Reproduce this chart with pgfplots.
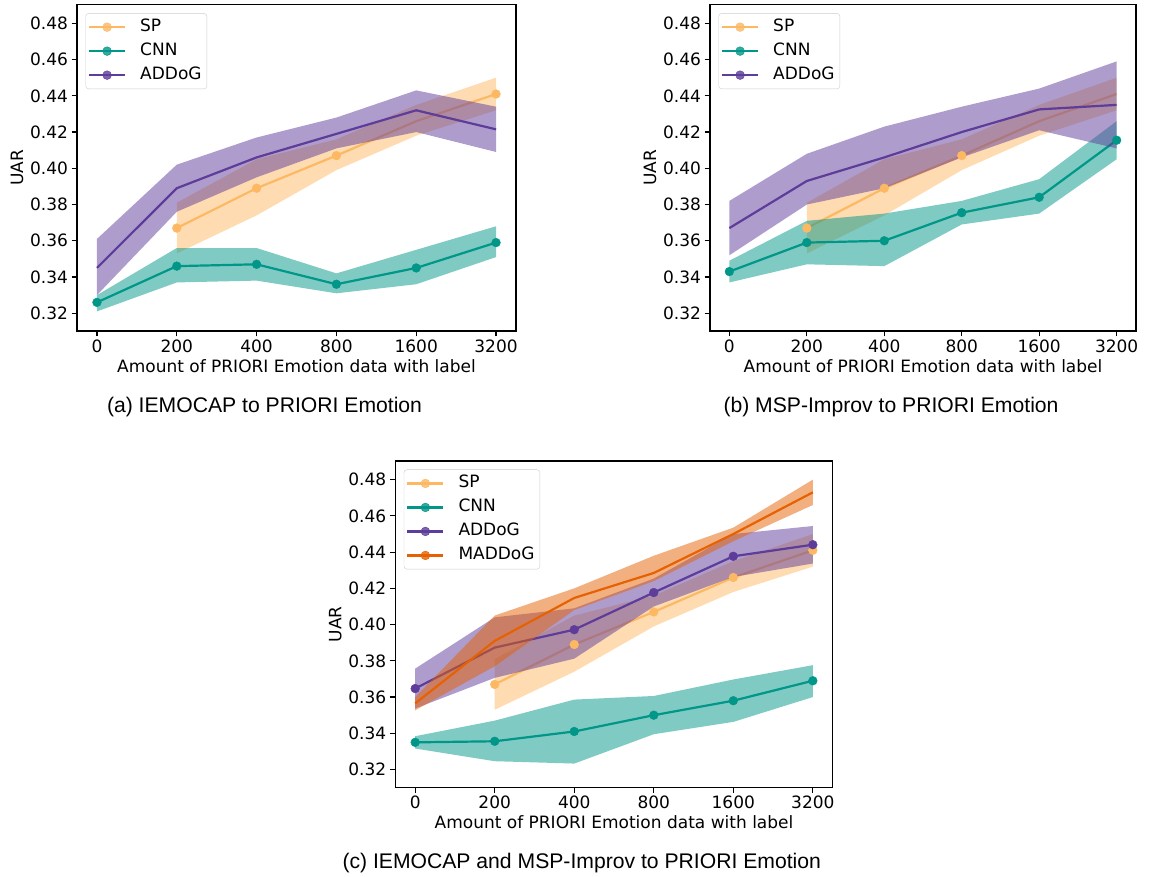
\documentclass[border=0pt]{standalone}
\usepackage{fontspec}
\setmainfont{DejaVu Sans}
\newfontfamily\capfont{Liberation Sans}
\usepackage{pgfplots}
\pgfplotsset{compat=1.18}

\definecolor{spc}{HTML}{FDB863}
\definecolor{cnnc}{HTML}{009688}
\definecolor{addc}{HTML}{5E3C99}
\definecolor{madc}{HTML}{E66101}

\newcommand{\fs}{\fontsize{17}{20}\selectfont}

\pgfplotsset{
  uar/.style={
    scale only axis, width=439pt, height=326.3pt,
    xmin=-0.25, xmax=5.25, ymin=0.3102, ymax=0.4903,
    xtick={0,1,2,3,4,5}, xticklabels={0,200,400,800,1600,3200},
    ytick={0.32,0.34,0.36,0.38,0.40,0.42,0.44,0.46,0.48},
    yticklabel style={/pgf/number format/.cd, fixed, fixed zerofill, precision=2},
    /pgf/number format/assume math mode=true,
    tick label style={font=\fs},
    label style={font=\fs},
    tick align=outside, major tick length=5.5pt,
    tick style={line width=1.2pt, black},
    xtick pos=bottom, ytick pos=left,
    axis line style={line width=1.2pt},
    xlabel={Amount of PRIORI Emotion data with label},
    ylabel={UAR},
    legend cell align=left,
    legend style={at={(0,1)}, anchor=north west, xshift=8.5pt, yshift=-8.5pt,
      draw=black!20, rounded corners=3pt, fill=white, fill opacity=0.8, text opacity=1,
      font=\fs, inner xsep=2.3pt, inner ysep=1.75pt, column sep=11pt,
      nodes={inner xsep=3pt, inner ysep=4.25pt, text height=12pt, text depth=3.5pt}},
    legend image code/.code={\draw[mark repeat=2,mark phase=2] plot coordinates {(0pt,0pt) (18pt,0pt) (36pt,0pt)};},
  },
  ln/.style={line width=2.2pt, color=#1, mark=*, mark size=4.4pt, mark options={solid, fill=#1, line width=0.4pt}},
  nm/.style={line width=2.2pt, color=#1},
  bd/.style={fill=#1, fill opacity=0.5, draw=none, forget plot},
}

\begin{document}
\begin{tikzpicture}
\useasboundingbox (0pt,0pt) rectangle (1158pt,877pt);

% ---------------- (a) ----------------
\begin{axis}[uar, at={(77pt,546pt)}, anchor=south west]
\addlegendimage{ln=spc}\addlegendentry{SP}
\addlegendimage{ln=cnnc}\addlegendentry{CNN}
\addlegendimage{ln=addc}\addlegendentry{ADDoG}
% SP
\addplot[ln=spc, forget plot, mark indices={1,2,3,5}] coordinates {(1,0.367)(2,0.389)(3,0.407)(4,0.426)(5,0.441)};
\addplot[bd=spc] coordinates {(1,0.381)(2,0.405)(3,0.416)(4,0.435)(5,0.450)(5,0.432)(4,0.418)(3,0.399)(2,0.374)(1,0.353)} --cycle;
% CNN
\addplot[ln=cnnc, forget plot] coordinates {(0,0.326)(1,0.346)(2,0.347)(3,0.336)(4,0.345)(5,0.359)};
\addplot[bd=cnnc] coordinates {(0,0.330)(1,0.356)(2,0.356)(3,0.342)(4,0.355)(5,0.368)(5,0.351)(4,0.336)(3,0.331)(2,0.338)(1,0.337)(0,0.321)} --cycle;
% ADDoG
\addplot[nm=addc, forget plot] coordinates {(0,0.345)(1,0.389)(2,0.406)(3,0.419)(4,0.432)(5,0.4215)};
\addplot[bd=addc] coordinates {(0,0.361)(1,0.402)(2,0.417)(3,0.428)(4,0.443)(5,0.434)(5,0.409)(4,0.420)(3,0.411)(2,0.395)(1,0.376)(0,0.330)} --cycle;
\end{axis}

% ---------------- (b) ----------------
\begin{axis}[uar, width=426pt, at={(710pt,546pt)}, anchor=south west]
\addlegendimage{ln=spc}\addlegendentry{SP}
\addlegendimage{ln=cnnc}\addlegendentry{CNN}
\addlegendimage{ln=addc}\addlegendentry{ADDoG}
% SP
\addplot[ln=spc, forget plot, mark indices={1,2,3}] coordinates {(1,0.367)(2,0.389)(3,0.407)(4,0.426)(5,0.441)};
\addplot[bd=spc] coordinates {(1,0.381)(2,0.405)(3,0.416)(4,0.435)(5,0.450)(5,0.432)(4,0.418)(3,0.399)(2,0.374)(1,0.353)} --cycle;
% CNN
\addplot[ln=cnnc, forget plot] coordinates {(0,0.343)(1,0.359)(2,0.360)(3,0.3755)(4,0.384)(5,0.4155)};
\addplot[bd=cnnc] coordinates {(0,0.349)(1,0.371)(2,0.375)(3,0.382)(4,0.394)(5,0.426)(5,0.405)(4,0.375)(3,0.369)(2,0.346)(1,0.347)(0,0.337)} --cycle;
% ADDoG
\addplot[nm=addc, forget plot] coordinates {(0,0.367)(1,0.393)(2,0.406)(3,0.420)(4,0.4325)(5,0.435)};
\addplot[bd=addc] coordinates {(0,0.382)(1,0.408)(2,0.423)(3,0.434)(4,0.444)(5,0.459)(5,0.411)(4,0.421)(3,0.406)(2,0.389)(1,0.380)(0,0.352)} --cycle;
\end{axis}

% ---------------- (c) ----------------
\begin{axis}[uar, width=437.4pt, at={(395.3pt,89.7pt)}, anchor=south west]
\addlegendimage{ln=spc}\addlegendentry{SP}
\addlegendimage{ln=cnnc}\addlegendentry{CNN}
\addlegendimage{ln=addc}\addlegendentry{ADDoG}
\addlegendimage{ln=madc}\addlegendentry{MADDoG}
% SP
\addplot[ln=spc, forget plot] coordinates {(1,0.367)(2,0.389)(3,0.407)(4,0.426)(5,0.441)};
\addplot[bd=spc] coordinates {(1,0.381)(2,0.405)(3,0.416)(4,0.435)(5,0.450)(5,0.432)(4,0.418)(3,0.399)(2,0.374)(1,0.353)} --cycle;
% CNN
\addplot[ln=cnnc, forget plot] coordinates {(0,0.335)(1,0.3356)(2,0.341)(3,0.350)(4,0.358)(5,0.369)};
\addplot[bd=cnnc] coordinates {(0,0.3384)(1,0.347)(2,0.3586)(3,0.3606)(4,0.3697)(5,0.3776)(5,0.360)(4,0.3463)(3,0.3395)(2,0.3233)(1,0.3246)(0,0.3316)} --cycle;
% ADDoG
\addplot[ln=addc, forget plot, mark indices={1,3,4,5,6}] coordinates {(0,0.3647)(1,0.3873)(2,0.3972)(3,0.4177)(4,0.4377)(5,0.4441)};
\addplot[bd=addc] coordinates {(0,0.3757)(1,0.404)(2,0.409)(3,0.4254)(4,0.450)(5,0.4544)(5,0.4337)(4,0.4263)(3,0.410)(2,0.3812)(1,0.3706)(0,0.3537)} --cycle;
% MADDoG
\addplot[nm=madc, forget plot] coordinates {(0,0.3565)(1,0.391)(2,0.4147)(3,0.4285)(4,0.450)(5,0.473)};
\addplot[bd=madc] coordinates {(0,0.360)(1,0.405)(2,0.420)(3,0.438)(4,0.4535)(5,0.480)(5,0.466)(4,0.446)(3,0.424)(2,0.408)(1,0.377)(0,0.3527)} --cycle;
\end{axis}

% captions
\node[anchor=base] at (264.5pt,464pt) {\capfont\fontsize{21.15}{25}\selectfont (a) IEMOCAP to PRIORI Emotion};
\node[anchor=base] at (891pt,464pt) {\capfont\fontsize{21.15}{25}\selectfont (b) MSP-Improv to PRIORI Emotion};
\node[anchor=base] at (581.7pt,8.7pt) {\capfont\fontsize{21.15}{25}\selectfont (c) IEMOCAP and MSP-Improv to PRIORI Emotion};
\end{tikzpicture}
\end{document}
